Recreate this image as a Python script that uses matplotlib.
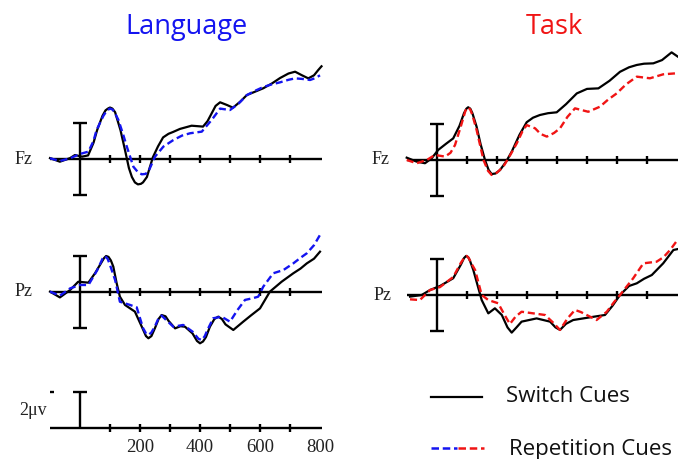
import matplotlib
matplotlib.use("Agg")
import matplotlib.pyplot as plt

# ---------------- data (time in ms, amplitude in microvolts) ----------------
lang_fz_switch_t = [-100, -67, -33, -17, 7, 27, 45, 57, 75, 85, 93, 100, 108, 117, 135, 150, 163, 173, 183, 193,
                    203, 210, 223, 243, 260, 277, 295, 310, 333, 372, 410, 425, 439, 452, 467, 490, 510, 535, 556,
                    585, 611, 640, 667, 695, 717, 740, 761, 780, 794, 805]
lang_fz_switch_v = [0.05, -0.15, 0.05, 0.22, 0.13, 0.2, 0.9, 1.6, 2.4, 2.7, 2.8, 2.86, 2.8, 2.6, 1.6, 0.5, -0.5,
                    -1.0, -1.3, -1.41, -1.38, -1.3, -1.0, 0.1, 0.7, 1.2, 1.4, 1.5, 1.67, 1.85, 1.8, 2.1, 2.54,
                    2.95, 3.15, 3.0, 2.85, 3.2, 3.55, 3.75, 3.93, 4.2, 4.5, 4.75, 4.85, 4.65, 4.48, 4.65, 4.94, 5.15]

lang_fz_rep_t = [-100, -67, -33, 0, 28, 45, 55, 78, 90, 100, 108, 115, 128, 145, 156, 178, 194, 206, 218, 228, 250,
                 278, 311, 340, 367, 406, 420, 439, 467, 500, 530, 556, 585, 611, 640, 667, 695, 717, 740, 767,
                 785, 800]
lang_fz_rep_v = [0.04, -0.11, 0.04, 0.28, 0.41, 1.0, 1.6, 2.4, 2.7, 2.8, 2.75, 2.6, 2.17, 1.3, 0.69, -0.43, -0.75,
                 -0.85, -0.83, -0.7, 0.13, 0.69, 1.05, 1.3, 1.43, 1.52, 1.8, 2.17, 2.8, 2.72, 3.1, 3.55, 3.8, 4.0,
                 4.15, 4.26, 4.4, 4.48, 4.45, 4.39, 4.5, 4.65]

task_fz_switch_t = [-101, -68, -40, -18, 4, 30, 54, 75, 90, 98, 104, 111, 118, 132, 145, 160, 172, 182, 195, 210,
                    230, 249, 275, 299, 320, 343, 370, 399, 430, 466, 500, 538, 575, 610, 640, 666, 690, 721, 750,
                    782, 803]
task_fz_switch_v = [0.13, -0.09, -0.18, 0.09, 0.56, 0.9, 1.2, 1.9, 2.6, 2.85, 2.93, 2.85, 2.6, 1.85, 0.9, 0.0,
                    -0.55, -0.78, -0.75, -0.56, -0.1, 0.46, 1.4, 2.1, 2.35, 2.5, 2.6, 2.65, 3.1, 3.7, 3.95, 3.98,
                    4.4, 4.9, 5.15, 5.28, 5.35, 5.37, 5.55, 5.98, 5.74]

task_fz_rep_t = [-101, -68, -34, -7, 27, 45, 60, 80, 95, 104, 111, 118, 132, 155, 170, 182, 200, 221, 245, 266,
                 285, 299, 327, 345, 366, 390, 410, 435, 460, 504, 543, 570, 599, 630, 666, 710, 754, 800]
task_fz_rep_v = [0.0, -0.18, 0.0, 0.28, 0.19, 0.4, 0.83, 1.9, 2.75, 2.93, 2.8, 2.5, 1.67, 0.0, -0.6, -0.83, -0.7,
                 -0.37, 0.3, 0.93, 1.6, 1.94, 1.76, 1.45, 1.3, 1.5, 1.76, 2.4, 2.87, 2.68, 2.96, 3.35, 3.7, 4.2,
                 4.63, 4.54, 4.76, 4.82]

lang_pz_switch_t = [-100, -67, -33, -6, 28, 50, 70, 80, 87, 95, 103, 111, 122, 133, 150, 183, 206, 220, 228, 238,
                    250, 262, 272, 285, 295, 317, 335, 350, 375, 390, 400, 410, 420, 433, 448, 461, 473, 485, 511,
                    544, 570, 600, 633, 672, 711, 735, 756, 780, 800]
lang_pz_switch_v = [0.02, -0.3, 0.11, 0.57, 0.52, 1.04, 1.6, 1.88, 2.0, 1.95, 1.75, 1.41, 0.5, -0.26, -0.72, -1.09,
                    -1.93, -2.45, -2.57, -2.45, -2.0, -1.5, -1.28, -1.35, -1.6, -2.02, -1.9, -1.93, -2.3, -2.72,
                    -2.85, -2.75, -2.5, -1.93, -1.5, -1.37, -1.5, -1.8, -2.11, -1.65, -1.3, -0.91, 0.02, 0.57,
                    1.04, 1.3, 1.59, 1.85, 2.24]

lang_pz_rep_t = [-100, -67, -33, 0, 28, 57, 75, 83, 92, 100, 117, 133, 167, 189, 210, 220, 228, 238, 250, 262, 272,
                 290, 311, 344, 375, 395, 406, 416, 425, 444, 472, 500, 525, 550, 575, 594, 611, 644, 678, 711,
                 735, 756, 780, 800]
lang_pz_rep_v = [0.02, -0.2, 0.2, 0.39, 0.39, 1.2, 1.85, 2.0, 1.85, 1.5, 0.67, -0.54, -0.72, -0.85, -2.0, -2.3,
                 -2.39, -2.25, -1.9, -1.45, -1.31, -1.6, -1.93, -1.83, -2.2, -2.6, -2.67, -2.45, -2.1, -1.46,
                 -1.37, -1.65, -1.0, -0.44, -0.35, -0.26, 0.3, 1.04, 1.22, 1.59, 1.9, 2.15, 2.6, 3.17]

task_pz_switch_t = [-90, -51, -23, 10, 54, 80, 90, 97, 104, 110, 121, 149, 171, 193, 216, 235, 249, 265, 282, 332,
                    377, 395, 410, 430, 454, 510, 560, 585, 610, 640, 666, 690, 716, 754, 788, 802]
task_pz_switch_v = [-0.09, 0.0, 0.28, 0.5, 0.93, 1.7, 2.05, 2.17, 2.1, 1.9, 1.39, -0.28, -1.02, -0.74, -1.11, -1.8,
                    -2.09, -1.8, -1.48, -1.3, -1.48, -1.8, -1.94, -1.6, -1.39, -1.24, -1.11, -0.6, 0.0, 0.5, 0.65,
                    0.9, 1.11, 1.76, 2.5, 2.55]

task_pz_rep_t = [-90, -57, -23, 10, 54, 80, 92, 99, 106, 113, 127, 149, 171, 204, 225, 243, 262, 282, 321, 360,
                 385, 410, 435, 460, 480, 499, 532, 566, 590, 610, 654, 688, 732, 755, 777, 803]
task_pz_rep_v = [-0.24, -0.28, 0.28, 0.44, 1.0, 1.8, 2.1, 2.17, 2.05, 1.8, 1.39, 0.0, -0.28, -0.46, -1.1, -1.61,
                 -1.2, -0.93, -1.02, -1.11, -1.5, -1.94, -1.3, -0.83, -0.95, -1.11, -1.39, -0.93, -0.4, 0.0, 0.93,
                 1.76, 1.85, 2.1, 2.5, 3.09]

time_ticks = [100, 200, 300, 400, 500, 600, 700]
time_tick_labels = ["200", "400", "600", "800"]
time_label_positions = [200, 400, 600, 800]
titles = ["Language", "Task"]
electrodes = ["Fz", "Pz"]
legend_labels = ["Switch Cues", "Repetition Cues"]
scale_label = "2\u03bcv"

# ---------------- figure ----------------
W, H = 678, 459
fig = plt.figure(figsize=(W / 100, H / 100), dpi=100)
fig.patch.set_facecolor("white")

PX_PER_MS = 0.3
PX_PER_UV = 18.0
T0, T1 = -100, 805

BLUE = "#1414f0"
RED = "#f01414"
SERIF = ["Liberation Serif", "DejaVu Serif"]
SANS = ["Open Sans", "DejaVu Sans"]
LW = 1.7
TXT = "#222222"


def panel(left_px, base_px, vmin, vmax):
    width = (T1 - T0) * PX_PER_MS
    top_px = base_px - vmax * PX_PER_UV
    height = (vmax - vmin) * PX_PER_UV
    bottom_px = top_px + height
    ax = fig.add_axes([left_px / W, (H - bottom_px) / H, width / W, height / H])
    ax.set_xlim(T0, T1)
    ax.set_ylim(vmin, vmax)
    ax.axis("off")
    return ax


def draw_axis(ax, full_bar=True):
    kw = dict(color="black", lw=LW, clip_on=False, solid_capstyle="butt")
    ax.plot([T0, 807], [0, 0], **kw)
    for t in time_ticks:
        ax.plot([t, t], [-0.21, 0.21], **kw)
    lo = -2 if full_bar else 0
    ax.plot([0, 0], [lo, 2], **kw)
    ax.plot([-22, 22], [2, 2], **kw)
    if full_bar:
        ax.plot([-22, 22], [-2, -2], **kw)


def draw_waves(ax, st, sv, rt, rv, color):
    ax.plot(st, sv, color="black", lw=1.6, clip_on=False, solid_joinstyle="round")
    ax.plot(rt, rv, color=color, lw=1.7, dashes=(3.0, 1.6), clip_on=False)


# Language Fz
ax = panel(50, 159, -3, 6.5)
draw_axis(ax)
draw_waves(ax, lang_fz_switch_t, lang_fz_switch_v, lang_fz_rep_t, lang_fz_rep_v, BLUE)
ax.text(-158, 0, electrodes[0], ha="right", va="center", fontsize=13, family=SERIF, color=TXT)

# Task Fz
ax = panel(407, 160, -3, 6.5)
draw_axis(ax)
draw_waves(ax, task_fz_switch_t, task_fz_switch_v, task_fz_rep_t, task_fz_rep_v, RED)
ax.text(-158, 0, electrodes[0], ha="right", va="center", fontsize=13, family=SERIF, color=TXT)

# Language Pz
ax = panel(50, 292, -3.5, 3.5)
draw_axis(ax)
draw_waves(ax, lang_pz_switch_t, lang_pz_switch_v, lang_pz_rep_t, lang_pz_rep_v, BLUE)
ax.text(-158, 0, electrodes[1], ha="right", va="center", fontsize=13, family=SERIF, color=TXT)

# Task Pz
ax = panel(407, 295, -3.5, 3.5)
draw_axis(ax)
draw_waves(ax, task_pz_switch_t, task_pz_switch_v, task_pz_rep_t, task_pz_rep_v, RED)
ax.text(-152, 0, electrodes[1], ha="right", va="center", fontsize=13, family=SERIF, color=TXT)

# Scale panel
ax = panel(50, 428, -1.5, 2.5)
draw_axis(ax, full_bar=False)
ax.plot([-100, -87], [2, 2], color="black", lw=LW, clip_on=False, solid_capstyle="butt")
ax.text(-112, 0.95, scale_label, ha="right", va="center", fontsize=13, family=SERIF, color=TXT)
for pos, lab in zip(time_label_positions, time_tick_labels):
    ax.text(pos, -1.1, lab, ha="center", va="center", fontsize=13.5, family=SERIF, color=TXT)

# Overlay for titles and legend (pixel coordinates)
ov = fig.add_axes([0, 0, 1, 1])
ov.set_xlim(0, W)
ov.set_ylim(H, 0)
ov.axis("off")
ov.text(186, 34, titles[0], ha="center", va="baseline", fontsize=19.5, family=SANS, color=BLUE)
ov.text(554, 34, titles[1], ha="center", va="baseline", fontsize=19.5, family=SANS, color=RED)

ov.plot([431, 482], [397, 397], color="black", lw=1.6)
ov.plot([431, 457], [448, 448], color=BLUE, lw=1.8, dashes=(3.0, 1.5))
ov.plot([458, 484], [448, 448], color=RED, lw=1.8, dashes=(3.0, 1.5))
ov.text(506, 397, legend_labels[0], ha="left", va="center", fontsize=16, family=SANS, color="#111111")
ov.text(509, 449, legend_labels[1], ha="left", va="center", fontsize=16, family=SANS, color="#111111")

fig.savefig("out.png", dpi=100, facecolor="white")
